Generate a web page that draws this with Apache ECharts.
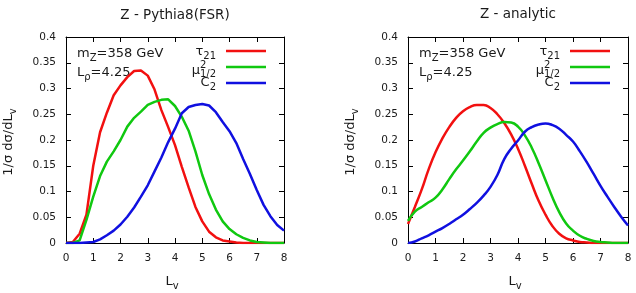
<!DOCTYPE html>
<html>
<head>
<meta charset="utf-8">
<script src="https://cdn.jsdelivr.net/npm/echarts@6/dist/echarts.min.js"></script>
<style>
html, body { margin: 0; padding: 0; background: #fff; }
#chart { width: 636px; height: 293px; }
</style>
</head>
<body>
<div id="chart"></div>
<script>
// L_v sample points (shared by every curve)
const lv = [0, 0.25, 0.5, 0.75, 1, 1.25, 1.5, 1.75, 2, 2.25, 2.5, 2.75, 3, 3.25, 3.5, 3.75,
  4, 4.25, 4.5, 4.75, 5, 5.25, 5.5, 5.75, 6, 6.25, 6.5, 6.75, 7, 7.25, 7.5, 7.75, 8];

// Z - Pythia8(FSR)
const pyTau = [0, 0.002, 0.018, 0.055, 0.15, 0.215, 0.253, 0.287, 0.306, 0.322, 0.334, 0.335, 0.325, 0.298, 0.258, 0.225,
  0.19, 0.148, 0.108, 0.07, 0.042, 0.022, 0.011, 0.005, 0.003, 0.001, 0, 0, 0, 0, 0, 0, 0];
const pyMu = [0, 0, 0.005, 0.045, 0.09, 0.13, 0.158, 0.178, 0.2, 0.226, 0.243, 0.255, 0.268, 0.274, 0.278, 0.279,
  0.266, 0.245, 0.218, 0.178, 0.132, 0.095, 0.065, 0.042, 0.027, 0.017, 0.01, 0.005, 0.002, 0.001, 0, 0, 0];
const pyC2 = [0, 0, 0, 0.001, 0.002, 0.007, 0.015, 0.024, 0.036, 0.051, 0.069, 0.09, 0.112, 0.139, 0.166, 0.196,
  0.222, 0.252, 0.264, 0.268, 0.27, 0.267, 0.254, 0.235, 0.217, 0.194, 0.163, 0.134, 0.103, 0.074, 0.052, 0.035, 0.024];

// Z - analytic
const anTau = [0.037, 0.07, 0.104, 0.143, 0.176, 0.203, 0.225, 0.243, 0.256, 0.264, 0.268, 0.268, 0.262, 0.25, 0.233, 0.211,
  0.183, 0.15, 0.115, 0.082, 0.055, 0.033, 0.018, 0.009, 0.005, 0.002, 0.001, 0, 0, 0, 0, 0, 0];
const anMu = [0.043, 0.061, 0.07, 0.079, 0.088, 0.104, 0.124, 0.143, 0.16, 0.178, 0.197, 0.214, 0.224, 0.231, 0.235, 0.234,
  0.226, 0.209, 0.185, 0.155, 0.122, 0.089, 0.06, 0.038, 0.024, 0.014, 0.008, 0.004, 0.002, 0.001, 0, 0, 0];
const anC2 = [0, 0.003, 0.009, 0.015, 0.022, 0.029, 0.037, 0.046, 0.055, 0.066, 0.078, 0.092, 0.109, 0.132, 0.163, 0.183,
  0.199, 0.216, 0.225, 0.23, 0.232, 0.229, 0.222, 0.21, 0.197, 0.178, 0.157, 0.134, 0.111, 0.09, 0.07, 0.051, 0.034];

const xTicks = [0, 1, 2, 3, 4, 5, 6, 7, 8];
const yTicks = [0, 0.05, 0.1, 0.15, 0.2, 0.25, 0.3, 0.35, 0.4];

const RED = '#f21010', GREEN = '#10c810', BLUE = '#1010e0';
const FONT = 'DejaVu Sans';
const INK = '#1a1a1a';

const chart = echarts.init(document.getElementById('chart'));

// plot frames: [left, right] edges in px
const frames = [[66, 284], [408, 628]];
const plotTop = 37, plotBottom = 243;

function xAx(gi, pos, label) {
  return {
    type: 'value', gridIndex: gi, position: pos,
    min: xTicks[0], max: xTicks[xTicks.length - 1], interval: xTicks[1] - xTicks[0],
    axisLine: { show: true, onZero: false, lineStyle: { color: '#000', width: 1 } },
    axisTick: { show: true, inside: true, length: 5, lineStyle: { color: '#000' } },
    axisLabel: { show: label, color: INK, fontSize: 10.5, fontFamily: FONT, margin: 10 },
    splitLine: { show: false }
  };
}
function yAx(gi, pos, label) {
  return {
    type: 'value', gridIndex: gi, position: pos,
    min: yTicks[0], max: yTicks[yTicks.length - 1], interval: yTicks[1] - yTicks[0],
    axisLine: { show: true, onZero: false, lineStyle: { color: '#000', width: 1 } },
    axisTick: { show: true, inside: true, length: 5, lineStyle: { color: '#000' } },
    axisLabel: { show: label, color: INK, fontSize: 10.5, fontFamily: FONT, margin: 10 },
    splitLine: { show: false }
  };
}
function curve(name, color, gi, ys, smooth) {
  return {
    name: name, type: 'line', xAxisIndex: gi * 2, yAxisIndex: gi * 2,
    data: lv.map((x, i) => [x, ys[i]]),
    showSymbol: false, symbol: 'none', smooth: smooth,
    lineStyle: { color: color, width: 2.5 }, itemStyle: { color: color }
  };
}

const rich = {
  m: { fontSize: 13, fontFamily: FONT, fill: INK },
  s: { fontSize: 10, fontFamily: FONT, fill: INK, padding: [8, 0, 0, 0] }
};
function txt(x, y, text, align, size, rot) {
  return {
    type: 'text', x: x, y: y, rotation: rot || 0,
    style: { text: text, rich: rich, fontSize: size || 13, fontFamily: FONT, fill: INK,
      textAlign: align || 'center', textVerticalAlign: 'middle' }
  };
}
function seg(x1, x2, y, color) {
  return { type: 'line', shape: { x1: x1, y1: y, x2: x2, y2: y }, style: { stroke: color, lineWidth: 2.5 } };
}

const graphic = [
  txt(175, 15, 'Z - Pythia8(FSR)', 'center', 13.5),
  txt(518, 14, 'Z - analytic', 'center', 13.5)
];
frames.forEach(function (f) {
  const L = f[0], R = f[1];
  graphic.push(
    txt(L + 11, 54, '{m|m}{s|Z}{m|=358 GeV}', 'left'),
    txt(L + 11, 73, '{m|L}{s|ρ}{m|=4.25}', 'left'),
    txt(R - 68, 52, '{m|τ}{s|21}', 'right'),
    txt(R - 84, 71, 'μ', 'right', 13),
    txt(R - 84, 65, '2', 'left', 10),
    txt(R - 68, 74, '1/2', 'right', 10),
    txt(R - 68, 83, '{m|C}{s|2}', 'right'),
    seg(R - 58, R - 18, 51, RED),
    seg(R - 58, R - 18, 67, GREEN),
    seg(R - 58, R - 18, 83, BLUE),
    txt(L - 57, 142, '{m|1/σ dσ/dL}{s|v}', 'center', 13, Math.PI / 2),
    txt((L + R) / 2 - 3, 282, '{m|L}{s|v}', 'center')
  );
});

const option = {
  animation: false,
  grid: frames.map(f => ({ left: f[0], right: 636 - f[1], top: plotTop, bottom: 293 - plotBottom, show: false })),
  xAxis: [xAx(0, 'bottom', true), xAx(0, 'top', false), xAx(1, 'bottom', true), xAx(1, 'top', false)],
  yAxis: [yAx(0, 'left', true), yAx(0, 'right', false), yAx(1, 'left', true), yAx(1, 'right', false)],
  series: [
    curve('τ21', RED, 0, pyTau, false),
    curve('μ2 1/2', GREEN, 0, pyMu, false),
    curve('C2', BLUE, 0, pyC2, false),
    curve('τ21', RED, 1, anTau, true),
    curve('μ2 1/2', GREEN, 1, anMu, true),
    curve('C2', BLUE, 1, anC2, true)
  ],
  graphic: graphic
};
chart.setOption(option);
</script>
</body>
</html>
